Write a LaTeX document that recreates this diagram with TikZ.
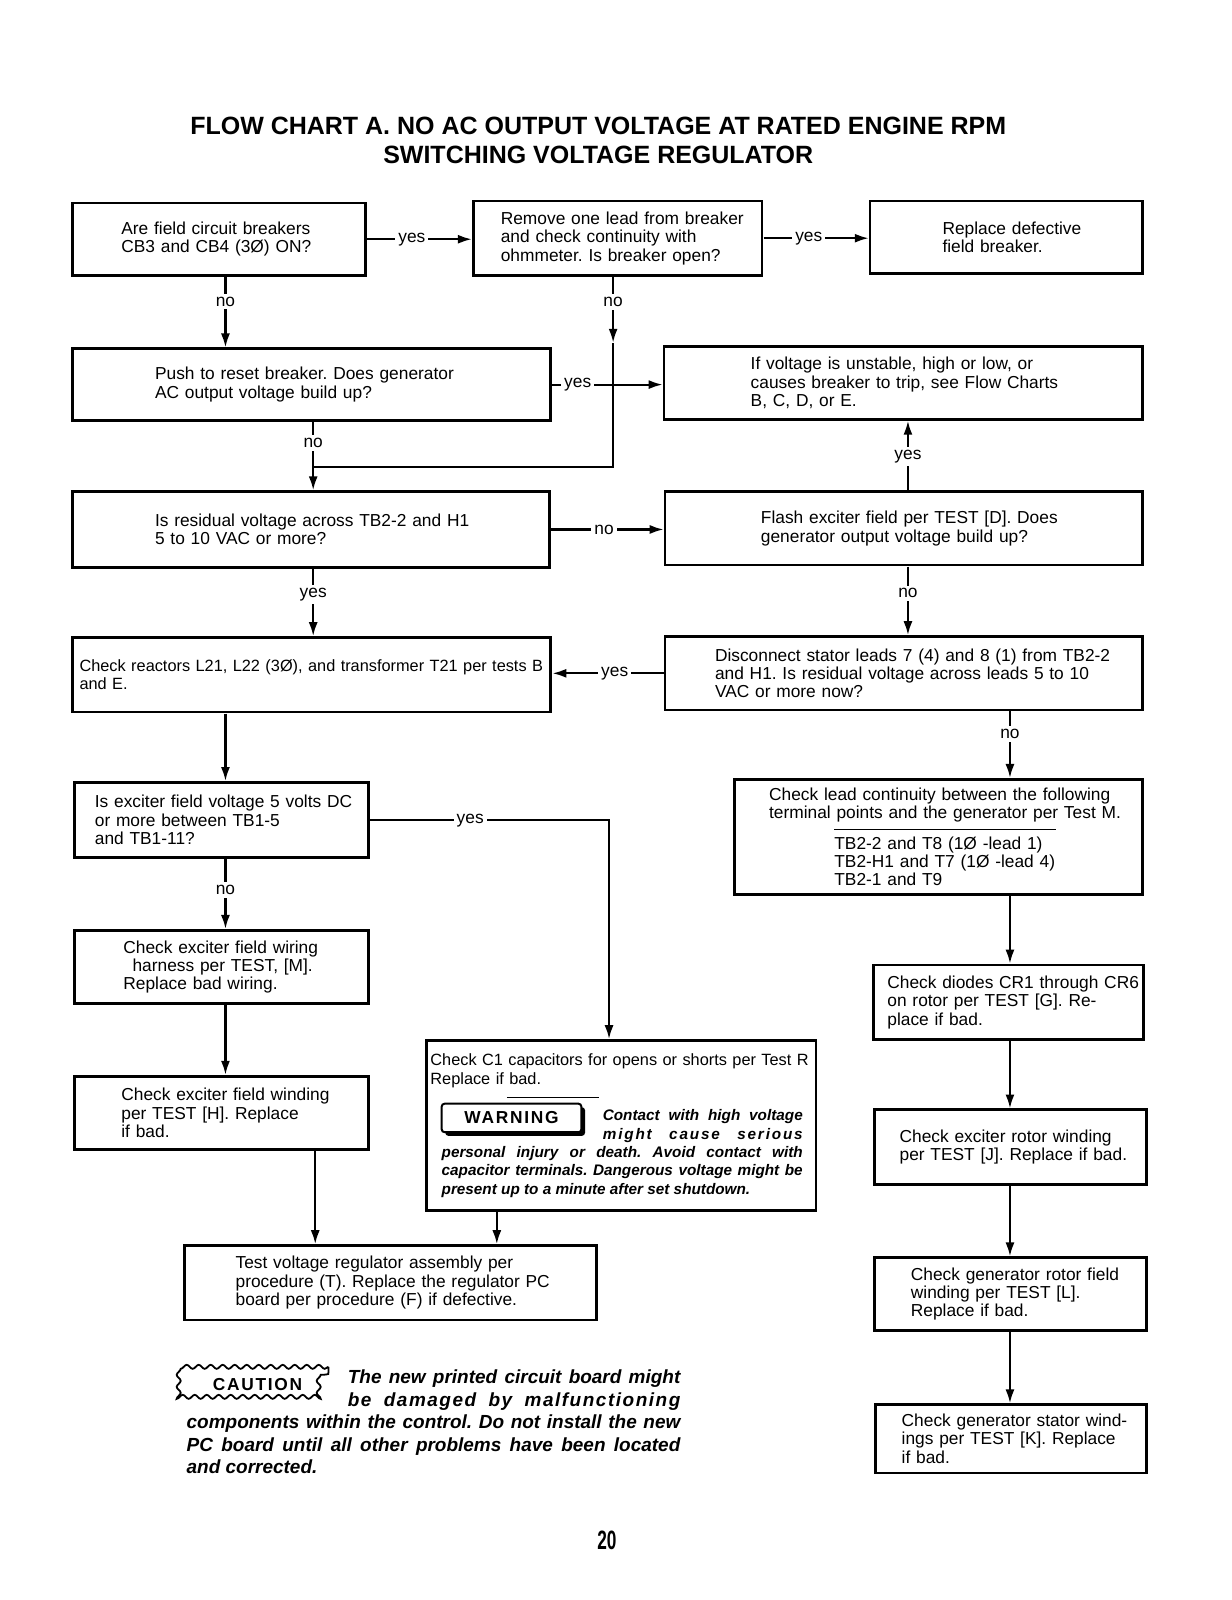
\documentclass[tikz,border=0pt]{standalone}
\usepackage{fontspec}
\setmainfont{Liberation Sans}
\newfontfamily\numfont[FakeStretch=0.65]{Liberation Sans}
\usetikzlibrary{arrows.meta,shadows,decorations.pathmorphing}
\frenchspacing
\hyphenpenalty=10000
\exhyphenpenalty=10000

\newcommand{\boxfont}{\fontsize{8.5}{9}\selectfont}
\newcommand{\warnfont}{\fontsize{7.5}{9}\selectfont\bfseries\itshape}
\newcommand{\cautfont}{\fontsize{9.3}{11}\selectfont\bfseries\itshape}

\tikzset{
  box/.style 2 args={draw, line width=1.4pt, inner sep=0pt, text width=#1,
    minimum height=#2, align=left, font=\boxfont},
  ind/.style={execute at begin node={\leftskip=#1\relax}},
  line/.style={line width=1.1pt, -{Latex[length=7pt,width=4.5pt]}},
  wire/.style={line width=1.1pt},
  lab/.style={fill=white, inner sep=1.5pt, font=\boxfont},
  warnbox/.style={draw, line width=1pt, fill=white, rounded corners=1.5pt,
    minimum width=68.5pt, minimum height=14pt, inner sep=0pt,
    font=\fontsize{8.5}{9}\selectfont\bfseries\addfontfeature{LetterSpace=10},
    drop shadow={shadow xshift=1.8pt, shadow yshift=-1.8pt, fill=black, opacity=1}},
  cautbox/.style={draw, line width=0.9pt, decorate,
    decoration={snake, segment length=6pt, amplitude=1pt},
    minimum width=69.5pt, minimum height=17.5pt, inner sep=0pt,
    font=\fontsize{8.5}{9}\selectfont\bfseries\addfontfeature{LetterSpace=10}},
  note/.style={text width=242pt, inner sep=0pt, align=justify, font=\cautfont},
}

\begin{document}
\begin{tikzpicture}[x=0.5pt, y=-0.5pt, scale=1.02, transform shape]
    \useasboundingbox (0,0) rectangle (1207.8,1568.6);

    \node[align=center, inner sep=0pt] (head) [font=\fontsize{12.25}{14.5}\selectfont\bfseries]
        at (586.5,137.5) {FLOW CHART A. NO AC OUTPUT VOLTAGE AT RATED ENGINE RPM\\SWITCHING VOLTAGE REGULATOR};

    \node[box={143.5pt}{35.5pt}] (cb)    [ind=24pt]   at (214.5,234.5) {Are field circuit breakers\\CB3 and CB4 (3Ø) ON?};
    \node[box={141.5pt}{36.5pt}] (rem)   [ind=13.5pt] at (605.5,233.5) {Remove one lead from breaker\\and check continuity with\\ohmmeter. Is breaker open?};
    \node[box={133.5pt}{35.5pt}] (repl)  [ind=35.5pt] at (986.5,232.5) {Replace defective\\field breaker.};
    \node[box={234.5pt}{35pt}]   (push)  [ind=40.5pt] at (305.5,377)   {Push to reset breaker. Does generator\\AC output voltage build up?};
    \node[box={234.5pt}{35.5pt}] (unst)  [ind=42.5pt] at (885.5,375.5) {If voltage is unstable, high or low, or\\causes breaker to trip, see Flow Charts\\B, C, D, or E.};
    \node[box={234pt}{37pt}]     (resid) [ind=40.5pt] at (305,519)     {Is residual voltage across TB2-2 and H1\\5 to 10 VAC or more?};
    \node[box={234pt}{36pt}]     (flash) [ind=47pt]   at (886,518)     {Flash exciter field per TEST [D]. Does\\generator output voltage build up?};
    \node[box={234.5pt}{36.5pt}] (react) [ind=3.5pt, font=\fontsize{8}{9}\selectfont]
        at (305.5,661.5) {\mbox{Check reactors L21, L22 (3Ø), and transformer T21 per tests B}\\and E.};
    \node[box={234pt}{36pt}]     (disc)  [ind=24.5pt] at (886,660)     {Disconnect stator leads 7 (4) and 8 (1) from TB2-2\\and H1. Is residual voltage across leads 5 to 10\\VAC or more now?};
    \node[box={144pt}{37pt}]     (excv)  [ind=10pt]   at (217,804)     {Is exciter field voltage 5 volts DC\\or more between TB1-5\\and TB1-11?};
    \node[box={200pt}{56.5pt}]   (lead)  [ind=17pt]   at (920,820.5)
        {Check lead continuity between the following\\terminal points and the generator per Test M.\par
         \leftskip=49pt\rule[3.5pt]{108.5pt}{0.5pt}\par\vspace{-3pt}
         TB2-2 and T8 (1Ø -lead 1)\\TB2-H1 and T7 (1Ø -lead 4)\\TB2-1 and T9\par};
    \node[box={144pt}{36pt}]     (wir)   [ind=24pt]   at (217,948)     {Check exciter field wiring\\\hspace*{4.5pt}harness per TEST, [M].\\Replace bad wiring.};
    \node[box={132.5pt}{36.5pt}] (diod)  [ind=7pt]    at (988.5,982.5) {Check diodes CR1 through CR6\\on rotor per TEST [G]. Re-\\place if bad.};
    \node[box={191pt}{83.5pt}]   (cap)   [ind=2pt, font=\fontsize{8}{9}\selectfont] at (609,1103.5)
        {\mbox{Check C1 capacitors for opens or shorts per Test R}\\Replace if bad.\par
         \hspace*{37.5pt}\rule[2pt]{45pt}{0.5pt}\par
         \warnfont\leftskip=0pt\rightskip=0pt\spaceskip=0pt\xspaceskip=0pt
         \parshape 3 86.5pt 98pt 86.5pt 98pt 7.5pt 177pt
         Contact with high voltage\linebreak {\addfontfeature{LetterSpace=12}might cause serious}\linebreak
         personal injury or death. Avoid contact with\linebreak
         capacitor terminals. Dangerous voltage might be\linebreak
         present up to a minute after set shutdown.\par\vspace*{6pt}};
    \node[box={144pt}{36pt}]     (wind)  [ind=23pt]   at (217,1091)    {Check exciter field winding\\per TEST [H]. Replace\\if bad.};
    \node[box={133.5pt}{36.5pt}] (erot)  [ind=12.5pt] at (990.5,1124.5) {Check exciter rotor winding\\per TEST [J]. Replace if bad.};
    \node[box={202pt}{36.5pt}]   (reg)   [ind=25pt]   at (383,1257.5)  {Test voltage regulator assembly per\\procedure (T). Replace the regulator PC\\board per procedure (F) if defective.};
    \node[box={133.5pt}{35.5pt}] (grot)  [ind=18pt]   at (990.5,1268.5) {Check generator rotor field\\winding per TEST [L].\\Replace if bad.};
    \node[box={133pt}{33.5pt}]   (gsta)  [ind=13pt]   at (991,1410.5)  {Check generator stator wind-\\ings per TEST [K]. Replace\\if bad.};

    \node[warnbox] (warn) at (501.5,1096) {WARNING};

    \node[cautbox] (caut) at (252.5,1357.5) {CAUTION};
    \node[note] (ctext) at (425,1394)
        {\parshape 3 79pt 163pt 79pt 163pt 0pt 242pt
         The new printed circuit board might\linebreak
         {\addfontfeature{LetterSpace=8}be damaged by malfunctioning}\linebreak
         components within the control. Do not install the new\linebreak
         PC board until all other problems have been located\linebreak
         and corrected.\par};

    \node[font=\numfont\bfseries\fontsize{13}{13}\selectfont] (page) at (595,1510) {20};

    \coordinate (l1) at (221,0);
    \coordinate (l2) at (307,0);
    \coordinate (l3) at (601,0);
    \coordinate (l4) at (890,0);
    \coordinate (l5) at (990,0);
    \coordinate (l6) at (597,0);
    \coordinate (l7) at (309,0);
    \coordinate (l8) at (487,0);
    \coordinate (tee)  at (601,336);
    \coordinate (join) at (307,458);

    \path[line] (cb.east)           edge node[lab,pos=.43] {yes} (cb.east -| rem.west)
                (rem.east)          edge node[lab,pos=.43] {yes} (rem.east -| repl.west)
                (cb.south -| l1)    edge node[lab,pos=.35] {no}  (push.north -| l1)
                (rem.south -| l3)   edge node[lab,pos=.38] {no}  (tee)
                (push.east)         edge node[lab,pos=.23] {yes} (push.east -| unst.west)
                (push.south -| l2)  edge node[lab,pos=.31] {no}  (resid.north -| l2)
                (flash.north -| l4) edge node[lab,pos=.49] {yes} (unst.south -| l4)
                (resid.east)        edge node[lab,pos=.47] {no}  (resid.east -| flash.west)
                (resid.south -| l2) edge node[lab,pos=.38] {yes} (react.north -| l2)
                (flash.south -| l4) edge node[lab,pos=.39] {no}  (disc.north -| l4)
                (disc.west)         edge node[lab,pos=.44] {yes} (disc.west -| react.east)
                (disc.south -| l5)  edge node[lab,pos=.34] {no}  (lead.north -| l5)
                (react.south -| l1) edge (excv.north -| l1)
                (excv.south -| l1)  edge node[lab,pos=.44] {no}  (wir.north -| l1)
                (wir.south -| l1)   edge (wind.north -| l1)
                (wind.south -| l7)  edge (reg.north -| l7)
                (cap.south -| l8)   edge (reg.north -| l8)
                (lead.south -| l5)  edge (diod.north -| l5)
                (diod.south -| l5)  edge (erot.north -| l5)
                (erot.south -| l5)  edge (grot.north -| l5)
                (grot.south -| l5)  edge (gsta.north -| l5)
                ;
    \draw[wire] (tee) |- (join);
    \draw[line] (excv.east) -- node[lab,pos=.42] {yes} (excv.east -| l6) -- (cap.north -| l6);
\end{tikzpicture}
\end{document}
